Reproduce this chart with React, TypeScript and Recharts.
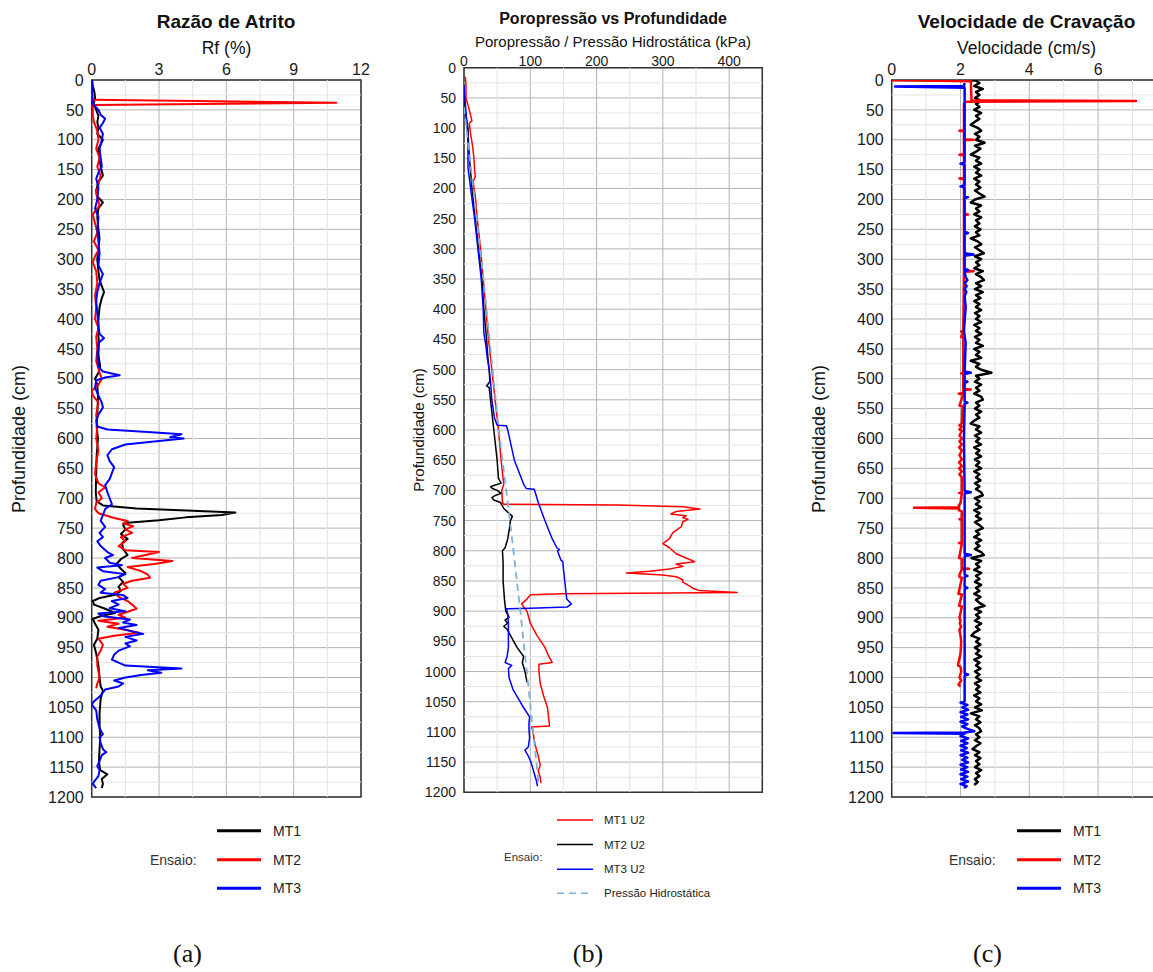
import React from 'react';
import {
  ScatterChart,
  Scatter,
  XAxis,
  YAxis,
  CartesianGrid,
  ReferenceLine,
  ReferenceArea,
} from 'recharts';

type Pair = [number, number]; // [depth (cm), value]

// ---------- shared depth axis ----------
const depthTicks = [0, 50, 100, 150, 200, 250, 300, 350, 400, 450, 500, 550, 600, 650, 700, 750, 800, 850, 900, 950, 1000, 1050, 1100, 1150, 1200];
const depthMinor = [25, 75, 125, 175, 225, 275, 325, 375, 425, 475, 525, 575, 625, 675, 725, 775, 825, 875, 925, 975, 1025, 1075, 1125, 1175];

// ---------- (a) friction ratio, Rf (%) ----------
const rfTicks = [0, 3, 6, 9, 12];
const rfMinor = [1.5, 4.5, 7.5, 10.5];

const rfMT1: Pair[] = [
  [0, 0.02], [10, 0.05], [20, 0.12], [30, 0.15], [40, 0.08], [50, 0.2], [60, 0.3], [70, 0.25], [80, 0.3], [90, 0.25],
  [100, 0.5], [108, 0.4], [115, 0.3], [130, 0.35], [145, 0.4], [160, 0.5], [170, 0.3], [185, 0.2], [195, 0.25], [205, 0.5],
  [215, 0.3], [230, 0.25], [250, 0.3], [265, 0.35], [280, 0.3], [300, 0.25], [320, 0.3], [335, 0.35], [345, 0.45], [355, 0.55],
  [365, 0.45], [380, 0.35], [400, 0.3], [420, 0.28], [440, 0.32], [460, 0.3], [480, 0.38], [490, 0.3], [500, 0.15], [510, 0.25],
  [530, 0.28], [560, 0.25], [580, 0.22], [600, 0.28], [630, 0.22], [660, 0.2], [690, 0.18], [705, 0.22], [712, 0.5], [717, 2.0],
  [721, 4.5], [724, 6.4], [728, 5.8], [732, 4.2], [737, 3.0], [741, 1.6], [745, 1.4], [752, 1.5], [760, 1.3], [768, 1.6],
  [775, 1.35], [785, 1.4], [795, 1.6], [802, 1.3], [810, 1.1], [818, 1.3], [825, 1.5], [832, 1.2], [840, 1.4], [848, 1.2],
  [855, 1.3], [862, 1.0], [867, 0.35], [872, 0.05], [878, 0.1], [885, 0.6], [892, 1.05], [897, 0.4], [902, 0.05], [910, 0.15],
  [920, 0.3], [935, 0.25], [945, 0.1], [960, 0.2], [980, 0.3], [1000, 0.35], [1015, 0.4], [1022, 0.5], [1035, 0.4], [1060, 0.35],
  [1080, 0.35], [1100, 0.38], [1120, 0.35], [1140, 0.32], [1155, 0.38], [1162, 0.7], [1170, 0.45], [1178, 0.5], [1185, 0.45],
];

const rfMT2: Pair[] = [
  [33, 0.05], [38, 10.9], [42, 0.05], [60, 0.05], [70, 0.1], [85, 0.25], [100, 0.3], [115, 0.2], [130, 0.35], [145, 0.25],
  [160, 0.4], [175, 0.3], [190, 0.2], [210, 0.35], [225, 0.05], [240, 0.15], [255, 0.25], [270, 0.1], [285, 0.3], [295, 0.15],
  [305, 0.05], [320, 0.2], [340, 0.25], [360, 0.15], [380, 0.2], [400, 0.15], [415, 0.3], [430, 0.2], [450, 0.25], [470, 0.2],
  [490, 0.35], [500, 0.45], [510, 0.3], [520, 0.0], [528, 0.05], [540, 0.3], [560, 0.2], [580, 0.25], [600, 0.2], [620, 0.3],
  [640, 0.2], [660, 0.15], [675, 0.3], [682, 0.6], [690, 0.3], [700, 0.45], [708, 0.2], [718, 0.15], [725, 0.3], [733, 1.0],
  [738, 1.6], [742, 1.4], [747, 1.85], [752, 1.5], [758, 1.8], [765, 1.3], [772, 1.5], [780, 1.2], [787, 1.5], [790, 3.0],
  [795, 2.4], [800, 1.8], [805, 3.6], [810, 2.8], [815, 1.6], [822, 2.2], [828, 2.5], [833, 2.6], [838, 1.8], [843, 1.4],
  [850, 1.6], [858, 1.0], [865, 1.2], [872, 1.6], [878, 1.8], [885, 2.0], [890, 1.6], [895, 1.2], [900, 1.5], [905, 0.3],
  [910, 1.2], [915, 0.7], [920, 1.5], [925, 2.1], [930, 1.0], [935, 0.3], [945, 0.5], [955, 0.4], [965, 0.25], [980, 0.25],
  [990, 0.3], [1000, 0.35], [1010, 0.25], [1018, 0.2],
];

const rfMT3: Pair[] = [
  [0, 0], [20, 0.02], [40, 0.05], [50, 0.3], [58, 0.4], [65, 0.6], [72, 0.5], [80, 0.35], [90, 0.5], [100, 0.45],
  [115, 0.35], [130, 0.4], [145, 0.45], [155, 0.3], [165, 0.2], [180, 0.3], [200, 0.25], [215, 0.15], [230, 0.3], [250, 0.25],
  [270, 0.3], [290, 0.35], [310, 0.3], [325, 0.5], [340, 0.35], [355, 0.25], [370, 0.2], [390, 0.25], [410, 0.3], [425, 0.35],
  [432, 0.55], [440, 0.3], [460, 0.25], [480, 0.3], [488, 0.5], [494, 1.25], [498, 0.6], [503, 0.2], [515, 0.15], [528, 0.3],
  [540, 0.45], [548, 0.5], [560, 0.3], [570, 0.2], [580, 0.25], [585, 0.7], [589, 2.5], [593, 4.0], [598, 3.5], [600, 4.1],
  [604, 3.0], [610, 1.5], [618, 0.9], [628, 0.7], [638, 0.8], [648, 1.0], [658, 0.9], [668, 0.8], [678, 0.6], [690, 0.7],
  [700, 0.8], [710, 0.9], [718, 0.6], [728, 0.5], [738, 0.4], [748, 0.6], [758, 0.35], [765, 0.5], [772, 0.25], [780, 0.4],
  [790, 0.7], [795, 0.95], [800, 0.6], [808, 0.8], [812, 1.35], [816, 0.25], [822, 0.5], [827, 1.5], [832, 1.2], [838, 0.4],
  [845, 0.3], [852, 0.6], [858, 0.4], [862, 1.4], [867, 1.6], [872, 0.9], [878, 1.2], [884, 0.8], [889, 1.5], [893, 0.3],
  [898, 0.6], [903, 1.7], [908, 1.4], [912, 2.0], [917, 1.2], [922, 1.7], [927, 2.3], [932, 1.5], [938, 2.0], [943, 1.5],
  [948, 1.7], [955, 1.2], [962, 1.0], [970, 0.9], [975, 1.2], [980, 1.5], [985, 4.0], [988, 2.5], [992, 3.1], [996, 2.2],
  [1000, 1.5], [1005, 1.0], [1010, 1.4], [1015, 1.2], [1020, 0.6], [1030, 0.4], [1040, 0.1], [1045, 0.0], [1055, 0.2], [1070, 0.25],
  [1085, 0.35], [1095, 0.5], [1100, 0.35], [1110, 0.4], [1120, 0.5], [1125, 0.65], [1130, 0.45], [1140, 0.35], [1148, 0.25], [1155, 0.35],
  [1165, 0.3], [1172, 0.15], [1178, 0.05], [1185, 0.2],
];

// ---------- (b) pore pressure (kPa) ----------
const porTicks = [0, 100, 200, 300, 400];
const porMinor = [50, 150, 250, 350];

const porMT1: Pair[] = [
  [15, 2], [30, 3], [50, 3], [70, 8], [88, 12], [92, 8], [110, 10], [130, 13], [150, 15], [170, 16],
  [180, 17], [188, 14], [200, 15], [212, 17], [250, 20], [300, 25], [350, 29], [400, 33], [450, 37], [500, 42],
  [550, 47], [600, 52], [650, 56], [690, 60], [700, 57], [720, 58], [723, 60], [724, 230], [727, 330], [731, 356],
  [735, 320], [739, 312], [742, 335], [745, 330], [748, 338], [752, 330], [760, 328], [770, 315], [780, 310], [788, 300],
  [795, 310], [805, 320], [812, 335], [818, 348], [822, 320], [826, 330], [830, 310], [834, 280], [837, 245], [840, 300],
  [843, 320], [848, 330], [852, 330], [858, 340], [862, 345], [866, 355], [869, 412], [871, 150], [873, 100], [880, 95],
  [888, 87], [893, 90], [900, 95], [920, 100], [940, 110], [960, 122], [975, 128], [985, 133], [988, 113], [1000, 113],
  [1020, 115], [1040, 120], [1060, 126], [1080, 128], [1090, 129], [1092, 102], [1100, 104], [1120, 107], [1140, 112], [1155, 115],
  [1165, 112], [1175, 115], [1185, 116],
];

const porMT2: Pair[] = [
  [30, 0], [60, 1], [80, 3], [100, 6], [130, 7], [160, 9], [200, 12], [250, 17], [300, 22], [350, 27],
  [400, 30], [450, 34], [480, 36], [500, 38], [520, 39], [527, 34], [530, 38], [560, 41], [600, 45], [650, 50],
  [680, 52], [688, 56], [692, 45], [694, 40], [697, 43], [700, 50], [705, 56], [708, 48], [712, 42], [716, 45],
  [720, 55], [730, 60], [738, 68], [743, 73], [750, 70], [760, 69], [780, 66], [795, 62], [800, 58], [820, 59],
  [850, 59], [880, 61], [900, 63], [910, 68], [915, 62], [920, 66], [925, 60], [930, 65], [940, 70], [960, 80],
  [975, 90], [985, 88], [1000, 92], [1018, 95],
];

const porMT3: Pair[] = [
  [30, 0], [60, 2], [100, 5], [130, 6], [165, 6], [200, 10], [250, 16], [300, 21], [350, 26], [400, 29],
  [440, 30], [460, 33], [480, 35], [500, 38], [520, 40], [550, 42], [580, 46], [592, 50], [593, 64], [600, 66],
  [620, 70], [650, 76], [670, 83], [690, 90], [697, 94], [698, 106], [720, 112], [750, 122], [780, 133], [795, 140],
  [798, 144], [800, 141], [815, 146], [818, 149], [830, 150], [850, 152], [870, 154], [880, 155], [888, 162], [893, 156],
  [895, 100], [896, 64], [905, 66], [920, 67], [940, 67], [960, 67], [975, 65], [985, 62], [990, 72], [995, 67],
  [1010, 68], [1030, 74], [1045, 82], [1060, 90], [1075, 99], [1085, 98], [1095, 98], [1110, 99], [1125, 97], [1130, 92],
  [1140, 97], [1150, 101], [1165, 105], [1180, 109], [1190, 111],
];

const hydrostatic: Pair[] = [[65, 0], [219, 16], [357, 30], [596, 52], [747, 69], [900, 85], [1190, 113]];

// ---------- (c) penetration rate (cm/s) ----------
const velTicks = [0, 2, 4, 6];
const velMinor = [1, 3, 5, 7];

// MT1 readings every 5 cm, starting at 5 cm
const velMT1Start = 5;
const velMT1Step = 5;
const velMT1Values = [
  2.55, 2.4, 2.65, 2.45, 2.55, 2.42, 2.6, 2.45, 2.55, 2.4, 2.6, 2.45, 2.55, 2.42, 2.3, 2.5, 2.6, 2.42, 2.55, 2.45,
  2.7, 2.42, 2.58, 2.45, 2.3, 2.55, 2.45, 2.6, 2.4, 2.55, 2.45, 2.6, 2.4, 2.55, 2.45, 2.58, 2.42, 2.55, 2.7, 2.42,
  2.3, 2.6, 2.45, 2.55, 2.4, 2.6, 2.45, 2.55, 2.42, 2.58, 2.45, 2.55, 2.3, 2.5, 2.6, 2.42, 2.55, 2.68, 2.42, 2.6,
  2.45, 2.55, 2.4, 2.65, 2.45, 2.6, 2.68, 2.45, 2.6, 2.42, 2.65, 2.45, 2.58, 2.4, 2.55, 2.45, 2.6, 2.42, 2.55, 2.45,
  2.6, 2.4, 2.55, 2.45, 2.6, 2.42, 2.55, 2.45, 2.65, 2.4, 2.55, 2.45, 2.6, 2.3, 2.55, 2.45, 2.6, 2.9, 2.45, 2.55,
  2.42, 2.6, 2.45, 2.55, 2.4, 2.6, 2.65, 2.45, 2.55, 2.42, 2.6, 2.45, 2.55, 2.4, 2.3, 2.55, 2.45, 2.6, 2.42, 2.55,
  2.45, 2.6, 2.4, 2.55, 2.45, 2.6, 2.42, 2.55, 2.45, 2.6, 2.4, 2.55, 2.45, 2.58, 2.42, 2.55, 2.45, 2.6, 2.65, 2.42,
  2.55, 2.45, 2.6, 2.4, 2.55, 2.45, 2.6, 2.42, 2.55, 2.65, 2.45, 2.55, 2.4, 2.6, 2.45, 2.55, 2.42, 2.6, 2.68, 2.32,
  2.6, 2.45, 2.55, 2.4, 2.6, 2.45, 2.55, 2.42, 2.6, 2.45, 2.55, 2.4, 2.58, 2.45, 2.55, 2.7, 2.42, 2.6, 2.45, 2.55,
  2.42, 2.6, 2.45, 2.55, 2.4, 2.32, 2.55, 2.45, 2.58, 2.42, 2.55, 2.45, 2.6, 2.4, 2.55, 2.45, 2.58, 2.42, 2.55, 2.45,
  2.6, 2.42, 2.55, 2.45, 2.58, 2.4, 2.55, 2.45, 2.6, 2.42, 2.62, 2.3, 2.55, 2.45, 2.58, 2.42, 2.55, 2.6, 2.45, 2.55,
  2.42, 2.58, 2.45, 2.35, 2.55, 2.42, 2.58, 2.45, 2.55, 2.42, 2.6, 2.45, 2.55, 2.42, 2.5, 2.4,
];
const velMT1: Pair[] = [[0, 0], [1, 2.45], ...velMT1Values.map((v, i): Pair => [velMT1Start + i * velMT1Step, v])];

const velMT2: Pair[] = [
  [0, 0], [2, 2.3], [34, 2.32], [35, 7.1], [36.5, 2.15], [40, 2.1], [84, 2.1], [85, 1.97], [86, 2.1], [99, 2.1],
  [100, 2.38], [101, 2.1], [124, 2.1], [125, 1.97], [126, 2.1], [164, 2.1], [165, 1.97], [166, 2.1], [224, 2.1], [225, 2.22],
  [226, 2.1], [319, 2.1], [320, 2.38], [321, 2.1], [420, 2.08], [421, 2.02], [422, 2.08], [430, 2.02], [431, 2.08], [490, 2.08],
  [491, 2.02], [492, 2.08], [517, 2.08], [518, 2.3], [519, 2.08], [524, 2.08], [525, 1.95], [526, 2.08], [545, 1.97], [546, 2.06],
  [575, 2.04], [578, 1.97], [580, 2.04], [585, 1.97], [587, 2.04], [595, 1.97], [600, 2.04], [605, 1.97], [610, 2.04], [615, 1.96],
  [620, 2.04], [628, 1.97], [635, 2.04], [640, 1.96], [646, 2.04], [650, 1.96], [655, 2.04], [660, 1.97], [665, 2.04], [690, 2.04],
  [691, 1.96], [692, 2.04], [708, 2.0], [712, 1.95], [715, 1.95], [716, 0.65], [717, 1.95], [720, 1.95], [722, 2.04], [734, 2.04],
  [735, 1.97], [736, 2.04], [774, 2.04], [775, 1.96], [776, 2.04], [800, 1.96], [801, 2.04], [817, 2.04], [818, 2.25], [819, 2.04],
  [828, 1.97], [832, 1.97], [833, 2.04], [860, 1.94], [861, 2.04], [880, 1.96], [881, 2.04], [900, 1.97], [905, 2.0], [910, 1.98],
  [915, 2.02], [920, 1.97], [930, 2.0], [940, 2.02], [960, 2.0], [978, 1.93], [980, 1.93], [982, 2.0], [990, 2.02], [1000, 1.97],
  [1005, 2.02], [1012, 1.94], [1015, 2.0],
];

const velMT3: Pair[] = [
  [5, 2.12], [10, 2.1], [11, 0.1], [13, 2.12], [138, 2.12], [140, 2.0], [142, 2.12], [176, 2.12], [178, 2.0], [180, 2.12],
  [194, 2.12], [196, 2.22], [198, 2.12], [254, 2.12], [256, 2.22], [258, 2.12], [290, 2.12], [292, 2.38], [294, 2.12], [316, 2.12],
  [318, 2.22], [320, 2.12], [330, 2.15], [335, 2.2], [340, 2.12], [345, 2.18], [350, 2.12], [355, 2.17], [362, 2.12], [380, 2.15],
  [420, 2.1], [440, 2.15], [488, 2.12], [490, 2.3], [492, 2.12], [503, 2.12], [505, 2.2], [507, 2.12], [538, 2.12], [540, 2.2],
  [542, 2.12], [600, 2.1], [688, 2.12], [690, 2.3], [692, 2.12], [793, 2.12], [795, 2.3], [797, 2.12], [828, 2.12], [830, 2.2],
  [832, 2.12], [848, 2.12], [850, 2.2], [852, 2.12], [993, 2.12], [995, 2.22], [997, 2.12], [1040, 2.12], [1042, 2.0], [1046, 2.2],
  [1050, 2.05], [1054, 2.22], [1058, 2.0], [1062, 2.2], [1066, 2.02], [1070, 2.22], [1074, 2.0], [1078, 2.2], [1082, 2.05], [1086, 2.2],
  [1090, 2.4], [1092, 2.12], [1093, 0.05], [1094, 2.12], [1098, 2.0], [1102, 2.22], [1106, 2.02], [1110, 2.2], [1114, 2.0], [1118, 2.18],
  [1122, 2.02], [1126, 2.22], [1130, 2.0], [1134, 2.2], [1138, 2.05], [1142, 2.22], [1146, 2.0], [1150, 2.2], [1154, 2.02], [1158, 2.22],
  [1162, 2.0], [1166, 2.2], [1170, 2.02], [1174, 2.22], [1178, 2.0], [1182, 2.18], [1185, 2.1],
];

// ---------- drawing ----------
const FONT = '"Liberation Sans", Arial, Helvetica, sans-serif';
const SERIF = '"Liberation Serif", "Times New Roman", serif';
const MAJOR_GRID = '#b4b4b4';
const MINOR_GRID = '#e3e3e3';
const FRAME = '#333333';

type Series = { name: string; data: Pair[]; color: string; width: number; dash?: string };

type PanelProps = {
  left: number;
  width: number;
  height: number;
  plot: { x: number; y: number; w: number; h: number };
  xDomain: [number, number];
  xTicks: number[];
  xMinor: number[];
  fontSize: number;
  xTickGap: number;
  series: Series[];
};

const AXIS_W = 60;
const AXIS_H = 30;
const noDot = () => <g />;

function Panel({ left, width, height, plot, xDomain, xTicks, xMinor, fontSize, xTickGap, series }: PanelProps) {
  const margin = {
    left: plot.x - left - AXIS_W,
    top: plot.y - AXIS_H,
    right: left + width - (plot.x + plot.w),
    bottom: height - (plot.y + plot.h),
  };
  return (
    <div style={{ position: 'absolute', left, top: 0 }}>
      <ScatterChart width={width} height={height} margin={margin}>
        <CartesianGrid stroke={MAJOR_GRID} strokeWidth={1} />
        {xMinor.map((v) => (
          <ReferenceLine key={`vx${v}`} x={v} stroke={MINOR_GRID} strokeWidth={1} />
        ))}
        {depthMinor.map((v) => (
          <ReferenceLine key={`hy${v}`} y={v} stroke={MINOR_GRID} strokeWidth={1} />
        ))}
        <XAxis
          type="number"
          dataKey="v"
          orientation="top"
          domain={xDomain}
          ticks={xTicks}
          interval={0}
          allowDataOverflow
          height={AXIS_H}
          tickLine={false}
          axisLine={false}
          tickSize={0}
          tickMargin={xTickGap}
          tick={{ fill: '#1a1a1a', fontSize, fontFamily: FONT }}
        />
        <YAxis
          type="number"
          dataKey="d"
          reversed
          domain={[0, 1200]}
          ticks={depthTicks}
          interval={0}
          allowDataOverflow
          width={AXIS_W}
          tickLine={false}
          axisLine={false}
          tick={{ fill: '#1a1a1a', fontSize, fontFamily: FONT }}
        />
        {series.map((s) => (
          <Scatter
            key={s.name}
            name={s.name}
            data={s.data.map(([d, v]) => ({ d, v }))}
            line={{ stroke: s.color, strokeWidth: s.width, strokeDasharray: s.dash, strokeLinejoin: 'round' }}
            lineType="joint"
            shape={noDot}
            fill={s.color}
            isAnimationActive={false}
          />
        ))}
        <ReferenceArea
          x1={xDomain[0]}
          x2={xDomain[1]}
          y1={0}
          y2={1200}
          fill="none"
          fillOpacity={0}
          stroke={FRAME}
          strokeWidth={1.5}
          ifOverflow="visible"
        />
      </ScatterChart>
    </div>
  );
}

function LegendBlock({ lineX, textX, labelX, ys, labelY, entries, size, lw }: {
  lineX: [number, number]; textX: number; labelX: number; ys: number[]; labelY: number;
  entries: { label: string; color: string; dash?: string }[]; size: number; lw: number;
}) {
  return (
    <g fontFamily={FONT}>
      <text x={labelX} y={labelY} fontSize={size} fill="#333" dominantBaseline="central">Ensaio:</text>
      {entries.map((e, i) => (
        <g key={e.label}>
          <line x1={lineX[0]} x2={lineX[1]} y1={ys[i]} y2={ys[i]} stroke={e.color} strokeWidth={lw} strokeDasharray={e.dash} />
          <text x={textX} y={ys[i]} fontSize={size} fill="#222" dominantBaseline="central">{e.label}</text>
        </g>
      ))}
    </g>
  );
}

export default function App() {
  return (
    <div style={{ position: 'absolute', left: 0, top: 0, width: 1153, height: 972, overflow: 'hidden', background: '#fff' }}>
      <Panel
        left={0}
        width={380}
        height={810}
        plot={{ x: 91.7, y: 80, w: 269.3, h: 717 }}
        xDomain={[0, 12]}
        xTicks={rfTicks}
        xMinor={rfMinor}
        fontSize={16}
        xTickGap={5}
        series={[
          { name: 'MT1', data: rfMT1, color: '#000000', width: 2 },
          { name: 'MT2', data: rfMT2, color: '#ff0000', width: 2 },
          { name: 'MT3', data: rfMT3, color: '#0000ff', width: 2 },
        ]}
      />
      <Panel
        left={380}
        width={400}
        height={810}
        plot={{ x: 464, y: 67.7, w: 298.3, h: 724.6 }}
        xDomain={[0, 450]}
        xTicks={porTicks}
        xMinor={porMinor}
        fontSize={14}
        xTickGap={2}
        series={[
          { name: 'MT1 U2', data: porMT1, color: '#ff0000', width: 1.5 },
          { name: 'MT2 U2', data: porMT2, color: '#000000', width: 1.5 },
          { name: 'MT3 U2', data: porMT3, color: '#0000ff', width: 1.5 },
          { name: 'Pressão Hidrostática', data: hydrostatic, color: '#7fb0d8', width: 1.8, dash: '7 5' },
        ]}
      />
      <Panel
        left={780}
        width={400}
        height={810}
        plot={{ x: 891.7, y: 80, w: 275.2, h: 717 }}
        xDomain={[0, 8]}
        xTicks={velTicks}
        xMinor={velMinor}
        fontSize={16}
        xTickGap={5}
        series={[
          { name: 'MT1', data: velMT1, color: '#000000', width: 2.5 },
          { name: 'MT2', data: velMT2, color: '#ff0000', width: 2.5 },
          { name: 'MT3', data: velMT3, color: '#0000ff', width: 2.5 },
        ]}
      />
      <svg width={1153} height={972} style={{ position: 'absolute', left: 0, top: 0, pointerEvents: 'none' }}>
        {/* titles and axis names */}
        <g fontFamily={FONT} textAnchor="middle" fill="#111">
          <text x={226} y={21} fontSize={19} fontWeight="bold" dominantBaseline="central">Razão de Atrito</text>
          <text x={226.5} y={48} fontSize={17.5} dominantBaseline="central">Rf (%)</text>
          <text x={613} y={18} fontSize={16} fontWeight="bold" dominantBaseline="central">Poropressão vs Profundidade</text>
          <text x={613} y={41} fontSize={15} dominantBaseline="central">Poropressão / Pressão Hidrostática (kPa)</text>
          <text x={1026.5} y={21} fontSize={19} fontWeight="bold" dominantBaseline="central">Velocidade de Cravação</text>
          <text x={1026.5} y={48} fontSize={17.5} dominantBaseline="central">Velocidade (cm/s)</text>
          <text transform="translate(19,439) rotate(-90)" fontSize={18} dominantBaseline="central">Profundidade (cm)</text>
          <text transform="translate(418,430) rotate(-90)" fontSize={15} dominantBaseline="central">Profundidade (cm)</text>
          <text transform="translate(819,439) rotate(-90)" fontSize={18} dominantBaseline="central">Profundidade (cm)</text>
        </g>
        <LegendBlock
          lineX={[217, 261]}
          textX={273}
          labelX={150}
          ys={[830.7, 859.7, 888.3]}
          labelY={860}
          size={14}
          lw={3}
          entries={[
            { label: 'MT1', color: '#000000' },
            { label: 'MT2', color: '#ff0000' },
            { label: 'MT3', color: '#0000ff' },
          ]}
        />
        <LegendBlock
          lineX={[557, 593]}
          textX={604}
          labelX={504}
          ys={[820, 844.5, 869.3, 893.3]}
          labelY={857}
          size={11.5}
          lw={1.5}
          entries={[
            { label: 'MT1 U2', color: '#ff0000' },
            { label: 'MT2 U2', color: '#000000' },
            { label: 'MT3 U2', color: '#0000ff' },
            { label: 'Pressão Hidrostática', color: '#7fb0d8', dash: '7 5' },
          ]}
        />
        <LegendBlock
          lineX={[1017, 1061]}
          textX={1073}
          labelX={949}
          ys={[830.7, 859.7, 888.3]}
          labelY={860}
          size={14}
          lw={3}
          entries={[
            { label: 'MT1', color: '#000000' },
            { label: 'MT2', color: '#ff0000' },
            { label: 'MT3', color: '#0000ff' },
          ]}
        />
        <g fontFamily={SERIF} fontSize={26} textAnchor="middle" fill="#111">
          <text x={187.5} y={953} dominantBaseline="central">(a)</text>
          <text x={588} y={953} dominantBaseline="central">(b)</text>
          <text x={987.5} y={953} dominantBaseline="central">(c)</text>
        </g>
      </svg>
    </div>
  );
}
